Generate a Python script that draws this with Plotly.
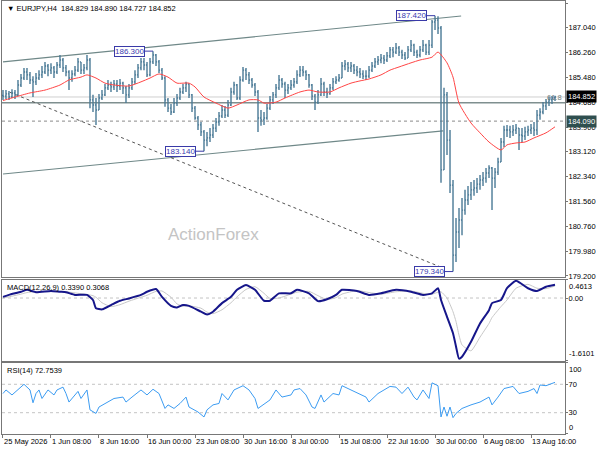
import pandas as pd
import plotly.graph_objects as go
from plotly.subplots import make_subplots

# 8-hour bars, weekdays only, starting Mon 25 May 2026
bar_times = pd.date_range("2026-05-25 00:00", "2026-08-18 08:00", freq="8h")
bar_times = bar_times[bar_times.dayofweek < 5]
bar_index = list(range(len(bar_times)))

# Price bars (EURJPY)
opens = [
    184.90, 184.88, 184.95, 184.85, 184.98, 184.92, 185.23, 185.45, 185.64, 185.55,
    185.39, 185.33, 185.45, 185.55, 185.64, 185.83, 185.70, 185.77, 185.64, 185.86,
    186.02, 185.77, 185.64, 185.45, 185.58, 185.70, 185.96, 185.70, 185.77, 186.02,
    184.76, 184.60, 184.44, 184.82, 184.92, 185.14, 185.23, 185.17, 185.26, 185.20,
    185.29, 185.14, 184.92, 185.14, 185.33, 185.55, 185.77, 185.96, 185.86, 185.55,
    185.96, 186.18, 185.96, 185.70, 185.45, 184.76, 184.50, 184.38, 184.66, 184.82,
    185.01, 185.14, 185.26, 184.92, 184.50, 184.19, 183.97, 183.75, 183.49, 183.56,
    183.65, 183.87, 184.06, 184.25, 184.44, 184.28, 184.60, 185.01, 185.23, 184.82,
    185.39, 185.70, 185.55, 185.39, 185.23, 185.01, 184.19, 184.13, 184.19, 184.50,
    184.76, 184.92, 185.14, 185.39, 185.26, 185.07, 185.14, 185.23, 185.33, 185.55,
    185.70, 185.64, 185.55, 185.23, 184.88, 184.69, 184.92, 185.26, 185.01, 184.95,
    185.14, 185.33, 185.39, 185.45, 185.83, 185.89, 185.77, 185.83, 185.70, 185.64,
    185.58, 185.51, 185.51, 185.70, 185.83, 185.96, 186.02, 186.08, 186.02, 186.15,
    186.34, 186.27, 186.40, 186.27, 186.18, 186.08, 186.34, 186.49, 186.27, 186.18,
    186.34, 186.49, 186.27, 186.49, 187.22, 187.28, 187.03, 182.55, 184.92, 183.49,
    182.07, 179.86, 180.59, 180.97, 181.28, 181.60, 181.76, 181.92, 181.98, 182.10,
    182.23, 182.29, 182.45, 182.61, 182.29, 182.48, 182.80, 183.43, 183.81, 183.81,
    183.75, 183.81, 183.87, 183.65, 183.62, 183.75, 183.81, 183.87, 183.81, 184.28,
    184.38, 184.57, 184.69, 184.76, 184.829,
]
highs = [
    185.07, 185.07, 185.04, 185.10, 185.07, 185.39, 185.58, 185.77, 185.77, 185.64,
    185.51, 185.61, 185.70, 185.83, 185.96, 185.89, 185.92, 185.83, 185.96, 186.18,
    186.08, 185.86, 185.70, 185.70, 185.83, 186.08, 185.96, 185.89, 186.18, 186.08,
    184.92, 184.82, 184.95, 185.07, 185.26, 185.39, 185.33, 185.39, 185.39, 185.42,
    185.33, 185.20, 185.26, 185.45, 185.70, 185.89, 186.08, 186.08, 185.96, 186.08,
    186.30, 186.21, 186.02, 185.77, 185.51, 184.82, 184.63, 184.82, 184.95, 185.14,
    185.26, 185.33, 185.26, 184.95, 184.57, 184.25, 184.06, 183.81, 183.75, 183.87,
    184.00, 184.19, 184.38, 184.60, 184.57, 184.76, 185.14, 185.33, 185.26, 185.51,
    185.80, 185.77, 185.64, 185.45, 185.29, 185.07, 184.44, 184.38, 184.63, 184.88,
    185.01, 185.26, 185.55, 185.45, 185.33, 185.26, 185.39, 185.45, 185.70, 185.83,
    185.83, 185.70, 185.58, 185.26, 184.95, 185.07, 185.45, 185.33, 185.14, 185.26,
    185.45, 185.51, 185.58, 185.96, 186.02, 185.96, 185.96, 185.89, 185.83, 185.77,
    185.70, 185.70, 185.83, 185.96, 186.08, 186.15, 186.21, 186.18, 186.27, 186.43,
    186.43, 186.56, 186.46, 186.34, 186.27, 186.46, 186.65, 186.53, 186.34, 186.46,
    186.65, 186.53, 186.65, 187.28, 187.42, 187.40, 187.09, 185.14, 185.01, 183.81,
    182.23, 181.03, 181.35, 181.66, 181.92, 182.04, 182.17, 182.23, 182.29, 182.39,
    182.48, 182.61, 182.70, 182.64, 182.61, 182.93, 183.56, 183.94, 183.97, 183.94,
    183.97, 184.00, 183.87, 183.87, 183.91, 183.94, 184.00, 184.06, 184.44, 184.50,
    184.69, 184.79, 184.85, 184.88, 184.890,
]
lows = [
    184.76, 184.79, 184.76, 184.82, 184.79, 184.88, 185.17, 185.39, 185.39, 185.26,
    184.85, 185.23, 185.39, 185.45, 185.58, 185.51, 185.58, 185.45, 185.58, 185.77,
    185.64, 185.51, 185.07, 185.33, 185.51, 185.64, 185.58, 185.58, 185.70, 184.50,
    184.38, 183.97, 184.44, 184.76, 184.88, 185.07, 185.01, 185.07, 185.01, 185.07,
    184.95, 184.66, 184.82, 185.07, 185.26, 185.45, 185.70, 185.70, 185.48, 185.51,
    185.89, 185.83, 185.61, 185.39, 184.54, 184.38, 184.28, 184.35, 184.57, 184.76,
    184.95, 185.01, 184.82, 184.38, 184.13, 183.81, 183.62, 183.14, 183.30, 183.43,
    183.56, 183.75, 183.94, 184.19, 184.19, 184.22, 184.57, 184.92, 184.76, 184.76,
    185.33, 185.39, 185.26, 185.14, 184.88, 183.75, 183.94, 183.97, 184.13, 184.44,
    184.63, 184.82, 185.07, 185.14, 184.82, 184.95, 185.07, 185.14, 185.26, 185.48,
    185.51, 185.39, 185.14, 184.76, 184.44, 184.63, 184.88, 184.88, 184.82, 184.92,
    185.07, 185.26, 185.33, 185.45, 185.70, 185.64, 185.64, 185.58, 185.51, 185.45,
    185.42, 185.39, 185.45, 185.64, 185.77, 185.86, 185.92, 185.89, 185.96, 186.08,
    186.11, 186.21, 186.15, 186.05, 186.02, 186.08, 186.27, 186.15, 186.08, 186.11,
    186.27, 186.18, 186.18, 186.40, 186.97, 186.84, 182.14, 182.55, 183.02, 181.82,
    179.34, 179.64, 180.08, 180.49, 181.13, 181.44, 181.60, 181.73, 181.82, 181.92,
    182.04, 182.14, 182.29, 181.28, 181.98, 182.39, 182.80, 183.27, 183.59, 183.56,
    183.62, 183.68, 183.18, 183.43, 183.49, 183.62, 183.68, 183.62, 183.65, 184.13,
    184.31, 184.44, 184.57, 184.63, 184.727,
]
closes = [
    184.88, 184.95, 184.85, 184.98, 184.92, 185.23, 185.45, 185.64, 185.55, 185.39,
    185.33, 185.45, 185.55, 185.64, 185.83, 185.70, 185.77, 185.64, 185.86, 186.02,
    185.77, 185.64, 185.45, 185.58, 185.70, 185.96, 185.70, 185.77, 186.02, 184.76,
    184.60, 184.44, 184.82, 184.92, 185.14, 185.23, 185.17, 185.26, 185.20, 185.29,
    185.14, 184.92, 185.14, 185.33, 185.55, 185.77, 185.96, 185.86, 185.55, 185.96,
    186.18, 185.96, 185.70, 185.45, 184.76, 184.50, 184.38, 184.66, 184.82, 185.01,
    185.14, 185.26, 184.92, 184.50, 184.19, 183.97, 183.75, 183.49, 183.56, 183.65,
    183.87, 184.06, 184.25, 184.44, 184.28, 184.60, 185.01, 185.23, 184.82, 185.39,
    185.70, 185.55, 185.39, 185.23, 185.01, 184.19, 184.13, 184.19, 184.50, 184.76,
    184.92, 185.14, 185.39, 185.26, 185.07, 185.14, 185.23, 185.33, 185.55, 185.70,
    185.64, 185.55, 185.23, 184.88, 184.69, 184.92, 185.26, 185.01, 184.95, 185.14,
    185.33, 185.39, 185.45, 185.83, 185.89, 185.77, 185.83, 185.70, 185.64, 185.58,
    185.51, 185.51, 185.70, 185.83, 185.96, 186.02, 186.08, 186.02, 186.15, 186.34,
    186.27, 186.40, 186.27, 186.18, 186.08, 186.34, 186.49, 186.27, 186.18, 186.34,
    186.49, 186.27, 186.49, 187.22, 187.28, 187.03, 182.55, 184.92, 183.49, 182.07,
    179.86, 180.59, 180.97, 181.28, 181.60, 181.76, 181.92, 181.98, 182.10, 182.23,
    182.29, 182.45, 182.61, 182.29, 182.48, 182.80, 183.43, 183.81, 183.81, 183.75,
    183.81, 183.87, 183.65, 183.62, 183.75, 183.81, 183.87, 183.81, 184.28, 184.38,
    184.57, 184.69, 184.76, 184.82, 184.852,
]

# Red moving average, sampled at bar numbers
ma_bar = [0, 4, 9, 14, 19, 22, 26, 28, 31, 34, 37, 42, 46, 49, 52, 55, 58, 62, 64, 67,
          71, 75, 78, 82, 85, 87, 91, 94, 99, 102, 105, 109, 112, 116, 119, 122, 126, 129, 132, 136,
          139, 143, 145, 148, 150, 152, 156, 159, 162, 166, 168, 171, 174, 177, 181, 184]
ma_val = [184.74, 184.85, 184.98, 185.07, 185.23, 185.39, 185.48, 185.55, 185.45, 185.29,
          185.23, 185.20, 185.33, 185.45, 185.58, 185.48, 185.29, 185.29, 185.17, 184.85,
          184.66, 184.50, 184.60, 184.76, 184.76, 184.66, 184.69, 184.82, 185.01, 185.07,
          185.01, 185.01, 185.14, 185.29, 185.36, 185.42, 185.55, 185.70, 185.80, 185.93,
          186.02, 186.11, 186.27, 185.93, 185.48, 184.66, 184.03, 183.72, 183.43, 183.18,
          183.34, 183.40, 183.43, 183.56, 183.72, 183.91]

# MACD(12,26,9) main and signal
macd_bar = [0, 2, 6, 8, 11, 16, 19, 21, 24, 28, 30, 31, 33, 36, 39, 42, 46, 48, 51, 53,
            56, 58, 60, 62, 66, 68, 70, 73, 76, 78, 81, 84, 87, 89, 92, 96, 98, 102, 105, 108,
            111, 113, 118, 122, 126, 131, 136, 140, 143, 145, 146, 148, 150, 151, 152, 153, 156, 159, 162, 163,
            166, 168, 171, 175, 178, 181, 184]
macd_main = [0.03, 0.08, 0.16, 0.21, 0.15, 0.18, 0.16, 0.15, 0.08, 0.08,
             -0.05, -0.26, -0.29, -0.18, -0.07, -0.01, 0.08, 0.16, 0.23, 0.03,
             -0.20, -0.24, -0.18, -0.20, -0.35, -0.42, -0.35, -0.13, 0.03, 0.21,
             0.33, 0.21, -0.07, -0.07, 0.12, 0.12, 0.21, 0.12, -0.08, -0.03,
             0.08, 0.21, 0.18, 0.08, 0.12, 0.21, 0.16, 0.08, 0.12, 0.25,
             -0.05, -0.48, -0.90, -1.24, -1.55, -1.50, -1.12, -0.65, -0.31, -0.13,
             -0.05, 0.25, 0.44, 0.25, 0.18, 0.29, 0.339]
macd_signal = [0.00, 0.03, 0.10, 0.14, 0.17, 0.17, 0.17, 0.16, 0.13, 0.09,
               0.06, 0.02, -0.12, -0.22, -0.17, -0.08, 0.02, 0.07, 0.17, 0.18,
               0.02, -0.15, -0.21, -0.20, -0.26, -0.36, -0.40, -0.30, -0.12, 0.03,
               0.22, 0.29, 0.12, -0.01, 0.00, 0.10, 0.15, 0.17, 0.06, -0.04,
               0.01, 0.10, 0.19, 0.14, 0.10, 0.16, 0.18, 0.12, 0.10, 0.15,
               0.16, 0.00, -0.35, -0.60, -0.95, -1.20, -1.35, -1.00, -0.65, -0.50,
               -0.22, -0.05, 0.25, 0.35, 0.25, 0.24, 0.307]

# RSI(14)
rsi_bar = [0, 1, 3, 5, 7, 9, 10, 11, 12, 13, 15, 17, 18, 20, 21, 22, 23, 25, 26, 28,
           29, 31, 32, 35, 37, 40, 41, 43, 46, 48, 50, 52, 54, 55, 57, 59, 61, 62, 65, 67,
           68, 70, 72, 73, 75, 77, 80, 82, 84, 85, 87, 89, 91, 93, 96, 97, 99, 101, 103, 104,
           106, 107, 110, 112, 113, 116, 118, 121, 122, 125, 127, 129, 131, 133, 135, 137, 138, 140, 142, 143,
           145, 146, 147, 148, 149, 150, 151, 153, 156, 159, 162, 163, 165, 167, 170, 172, 175, 177, 178, 179,
           181, 184]
rsi_val = [57, 62, 55, 62, 70, 62, 44, 57, 62, 50, 62, 55, 62, 66, 57, 45, 50, 60, 50, 62,
           34, 29, 38, 45, 50, 52, 45, 52, 62, 55, 63, 57, 36, 41, 36, 43, 52, 38, 31, 24,
           34, 41, 43, 57, 48, 62, 68, 62, 50, 36, 42, 48, 62, 52, 55, 62, 64, 55, 38, 36,
           55, 45, 57, 55, 68, 62, 57, 52, 45, 57, 62, 67, 66, 57, 66, 52, 48, 62, 50, 72,
           68, 24, 38, 25, 38, 23, 29, 36, 41, 45, 52, 41, 52, 64, 67, 57, 60, 64, 57, 69,
           68, 72.75]

# Drawn objects
swing_labels = [(50, 186.300), (67, 183.140), (144, 187.420), (150, 179.340)]
upper_channel = [(0, 185.96), (152.7, 187.41)]
lower_channel = [(0, 182.42), (146.7, 183.78)]
dotted_trend = [(2.3, 185.00), (146.7, 179.45)]
bid_price = 184.852
fib_level = 184.67
dotted_level = 184.09

price_ticks = [187.82, 187.04, 186.26, 185.48, 184.68, 183.90, 183.12, 182.34, 181.56, 180.76, 179.98, 179.20]
macd_max, macd_min = 0.4613, -1.6101
tick_times = ["2026-05-25 00:00", "2026-06-01 08:00", "2026-06-08 16:00", "2026-06-16 00:00",
              "2026-06-23 08:00", "2026-06-30 16:00", "2026-07-08 00:00", "2026-07-15 08:00",
              "2026-07-22 16:00", "2026-07-30 00:00", "2026-08-06 08:00", "2026-08-13 16:00"]
tick_text = ["25 May 2026", "1 Jun 08:00", "8 Jun 16:00", "16 Jun 00:00", "23 Jun 08:00",
             "30 Jun 16:00", "8 Jul 00:00", "15 Jul 08:00", "22 Jul 16:00", "30 Jul 00:00",
             "6 Aug 08:00", "13 Aug 16:00"]
tick_bars = [bar_times.get_loc(pd.Timestamp(t)) for t in tick_times]

BAR = "#4a7a96"
FRAME = "#777777"
FONT = "Liberation Sans"
FS = 7.5

fig = make_subplots(rows=3, cols=1, shared_xaxes=True, vertical_spacing=0.01)

fig.add_trace(go.Ohlc(
    x=bar_index, open=opens, high=highs, low=lows, close=closes,
    increasing=dict(line=dict(color=BAR, width=1.4)),
    decreasing=dict(line=dict(color=BAR, width=1.4)),
    tickwidth=0.35, hoverinfo="skip", showlegend=False,
), row=1, col=1)
fig.add_trace(go.Scatter(
    x=ma_bar, y=ma_val, mode="lines", line=dict(color="#ff4545", width=1, shape="spline", smoothing=0.6),
    hoverinfo="skip", showlegend=False,
), row=1, col=1)

fig.add_trace(go.Scatter(
    x=macd_bar, y=macd_signal, mode="lines", line=dict(color="#c8c8c8", width=1, shape="spline", smoothing=0.5),
    hoverinfo="skip", showlegend=False,
), row=2, col=1)
fig.add_trace(go.Scatter(
    x=macd_bar, y=macd_main, mode="lines", line=dict(color="#16168a", width=2, shape="spline", smoothing=0.5),
    hoverinfo="skip", showlegend=False,
), row=2, col=1)

fig.add_trace(go.Scatter(
    x=rsi_bar, y=rsi_val, mode="lines", line=dict(color="#3c9cf2", width=1),
    hoverinfo="skip", showlegend=False,
), row=3, col=1)

# level and trend lines
def line_shape(pts, color, width=1.2, dash="solid", xref="x", yref="y"):
    (x0, y0), (x1, y1) = pts
    return dict(type="line", xref=xref, yref=yref, x0=x0, y0=y0, x1=x1, y1=y1,
                line=dict(color=color, width=width, dash=dash), layer="below")

shapes = [
    dict(type="line", xref="x domain", yref="y", x0=0, x1=1, y0=bid_price, y1=bid_price,
         line=dict(color="#cfcfcf", width=1), layer="below"),
    dict(type="line", xref="x domain", yref="y", x0=0, x1=1, y0=fib_level, y1=fib_level,
         line=dict(color="#7f8f8f", width=1.4), layer="below"),
    dict(type="line", xref="x domain", yref="y", x0=0, x1=1, y0=dotted_level, y1=dotted_level,
         line=dict(color="#8a8a8a", width=1, dash="dot"), layer="below"),
    line_shape(upper_channel, "#6f8888"),
    line_shape(lower_channel, "#6f8888"),
    line_shape(dotted_trend, "#555555", width=1, dash="dot"),
    dict(type="line", xref="x2 domain", yref="y2", x0=0, x1=1, y0=0, y1=0,
         line=dict(color="#c4c4c4", width=1, dash="dot"), layer="below"),
    dict(type="line", xref="x3 domain", yref="y3", x0=0, x1=1, y0=70, y1=70,
         line=dict(color="#c4c4c4", width=1, dash="dot"), layer="below"),
    dict(type="line", xref="x3 domain", yref="y3", x0=0, x1=1, y0=30, y1=30,
         line=dict(color="#c4c4c4", width=1, dash="dot"), layer="below"),
]

small = dict(family=FONT, size=FS, color="#000000")
annotations = [
    dict(xref="paper", yref="paper", x=0, y=1, xanchor="left", yanchor="top", xshift=3, yshift=-1,
         text="▼ EURJPY,H4  184.829 184.890 184.727 184.852", showarrow=False, font=small),
    dict(xref="paper", yref="paper", x=0, y=0.3557, xanchor="left", yanchor="top", xshift=3, yshift=-1,
         text="MACD(12,26,9) 0.3390 0.3068", showarrow=False, font=small),
    dict(xref="paper", yref="paper", x=0, y=0.164, xanchor="left", yanchor="top", xshift=3, yshift=-1,
         text="RSI(14) 72.7539", showarrow=False, font=small),
    dict(xref="paper", yref="y", x=0.375, y=180.52, text="ActionForex", showarrow=False,
         font=dict(family=FONT, size=17, color="#c4c4c4")),
    dict(xref="paper", yref="y", x=1, y=fib_level, xanchor="right", yanchor="bottom", xshift=-1, yshift=-1,
         text="61.8", showarrow=False, font=dict(family=FONT, size=FS, color="#6f7f7f")),
    # current price and level boxes on the price scale
    dict(xref="paper", yref="y", x=1, y=bid_price, xanchor="left", xshift=1, text="184.852",
         showarrow=False, bgcolor="#000000", font=dict(family=FONT, size=FS, color="#ffffff"), borderpad=1),
    dict(xref="paper", yref="y", x=1, y=dotted_level, xanchor="left", xshift=1, text="184.090",
         showarrow=False, bgcolor="#2f4f4f", font=dict(family=FONT, size=FS, color="#ffffff"), borderpad=1),
    # sub-window scale extremes
    dict(xref="paper", yref="y2", x=1, y=macd_max, xanchor="left", yanchor="top", xshift=2,
         text=f"{macd_max:.4f}", showarrow=False, font=small),
    dict(xref="paper", yref="y2", x=1, y=macd_min, xanchor="left", yanchor="bottom", xshift=2, yshift=1,
         text=f"{macd_min:.4f}", showarrow=False, font=small),
    dict(xref="paper", yref="y3", x=1, y=100, xanchor="left", yanchor="top", xshift=2,
         text="100", showarrow=False, font=small),
    dict(xref="paper", yref="y3", x=1, y=0, xanchor="left", yanchor="bottom", xshift=2,
         text="0", showarrow=False, font=small),
]
for bar, price in swing_labels:
    annotations.append(dict(
        xref="x", yref="y", x=bar, y=price, text=f"{price:.3f}", showarrow=True,
        arrowhead=0, arrowwidth=1, arrowcolor="#3a3aa8", ax=-24, ay=0,
        bgcolor="#ffffff", bordercolor="#3a3aa8", borderwidth=1, borderpad=0,
        font=dict(family=FONT, size=8, color="#3a3ab0"),
    ))

axis_common = dict(showline=True, linecolor=FRAME, linewidth=1, mirror=True,
                   showgrid=False, zeroline=False)
fig.update_xaxes(range=[-0.33, 187.33], rangeslider_visible=False, showticklabels=False,
                 ticks="", **axis_common)
fig.update_xaxes(row=3, col=1, showticklabels=True, ticks="outside", ticklen=3, tickcolor=FRAME,
                 tickvals=tick_bars, ticktext=tick_text, ticklabelposition="outside right",
                 tickangle=0, tickfont=small)

yaxis_common = dict(side="right", ticks="outside", ticklen=2, tickcolor=FRAME, tickfont=small,
                    ticklabelstandoff=-1, **axis_common)
fig.update_layout(
    width=600, height=450,
    margin=dict(l=2, r=35, t=1, b=16),
    paper_bgcolor="#ffffff", plot_bgcolor="#ffffff",
    font=dict(family=FONT, size=FS, color="#000000"),
    showlegend=False,
    hovermode=False,
    yaxis=dict(domain=[0.3626, 1.0], range=[179.168, 187.883], tickvals=price_ticks,
               ticktext=[f"{v:.3f}" for v in price_ticks], **yaxis_common),
    yaxis2=dict(domain=[0.1686, 0.3557], range=[macd_min, macd_max], tickvals=[macd_max, 0, macd_min],
                ticktext=["", "0.00", ""], **yaxis_common),
    yaxis3=dict(domain=[0.0, 0.164], range=[0, 100], tickvals=[100, 70, 30, 0],
                ticktext=["", "70", "30", ""], **yaxis_common),
    shapes=shapes,
    annotations=annotations,
)

# drop the page's default body margin so the 600x450 figure fills the window
fig.write_html("out.html", config={"displayModeBar": False},
               post_script="document.body.style.margin='0';")
